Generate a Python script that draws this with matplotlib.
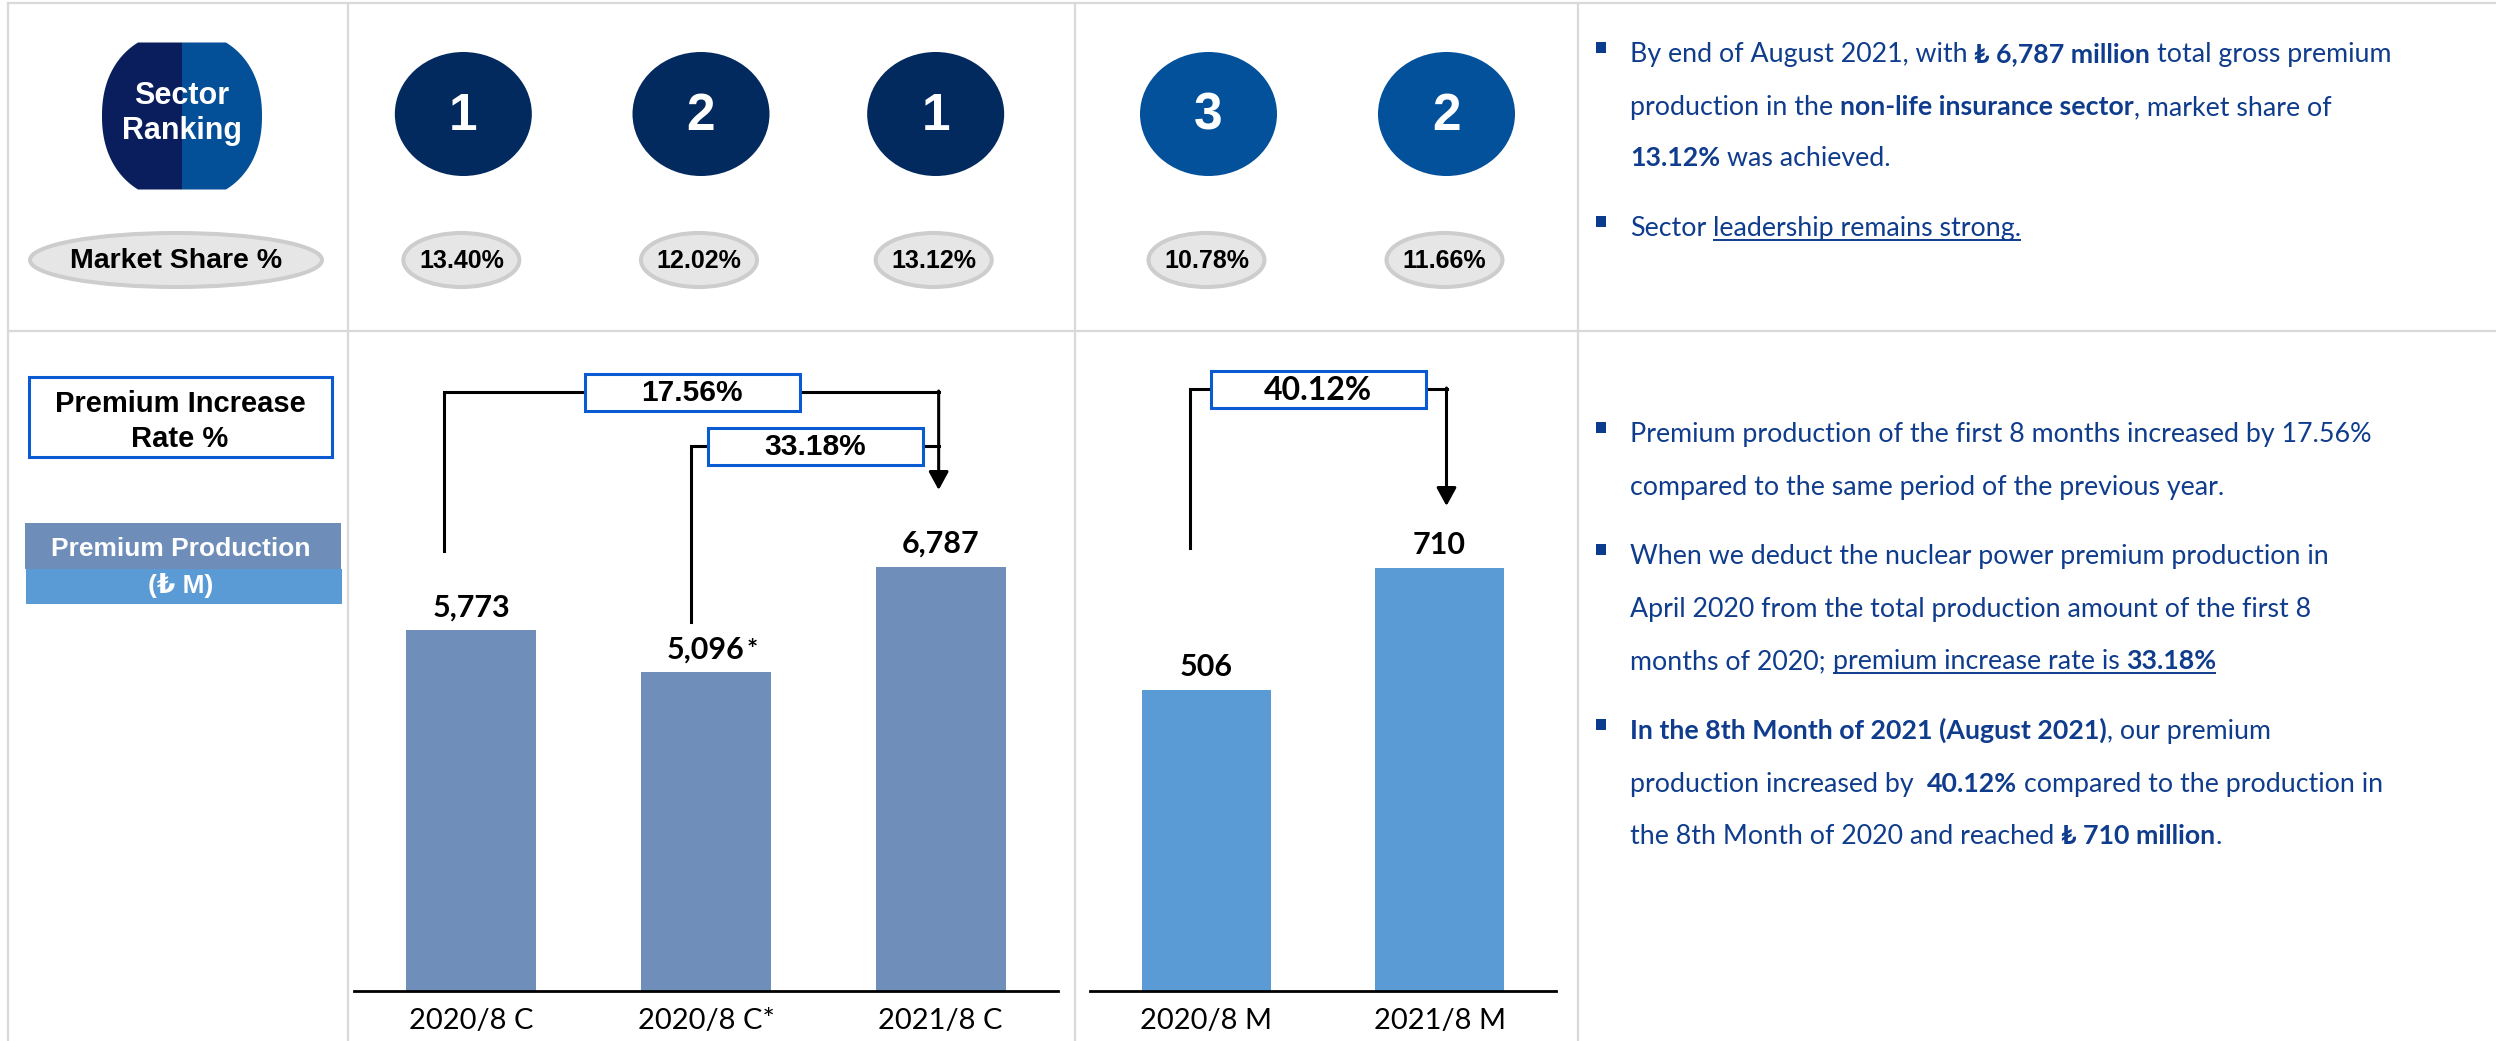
import numpy as np
import matplotlib
matplotlib.use('Agg')
import matplotlib.pyplot as plt
from matplotlib.patches import Ellipse, Rectangle, Polygon

# ---- data ----
cat_c = ['2020/8 C', '2020/8 C*', '2021/8 C']
prem_c = [5773, 5096, 6787]
rank_c = [1, 2, 1]
share_c = [13.40, 12.02, 13.12]

cat_m = ['2020/8 M', '2021/8 M']
prem_m = [506, 710]
rank_m = [3, 2]
share_m = [10.78, 11.66]

# increase rate labels: (text, from bar, to bar)
growth_c = [('17.56%', 0, 2), ('33.18%', 1, 2)]
growth_m = [('40.12%', 0, 1)]

# bullet notes: (has bullet, [(text, style)]) style: b = bold, u = underline
notes_top = [
    (True, [('By end of August 2021, with ', ''), ('₺ 6,787 million', 'b'), (' total gross premium', '')]),
    (False, [('production in the ', ''), ('non-life insurance sector', 'b'), (', market share of', '')]),
    (False, [('13.12%', 'b'), (' was achieved.', '')]),
    (True, [('Sector ', ''), ('leadership remains strong.', 'u')]),
]
notes_bottom = [
    (True, [('Premium production of the first 8 months increased by 17.56%', '')]),
    (False, [('compared to the same period of the previous year.', '')]),
    (True, [('When we deduct the nuclear power premium production in', '')]),
    (False, [('April 2020 from the total production amount of the first 8', '')]),
    (False, [('months of 2020; ', ''), ('premium increase rate is ', 'u'), ('33.18%', 'bu')]),
    (True, [('In the 8th Month of 2021 (August 2021)', 'b'), (', our premium', '')]),
    (False, [('production increased by  ', ''), ('40.12%', 'b'), (' compared to the production in', '')]),
    (False, [('the 8th Month of 2020 and reached ', ''), ('₺ 710 million', 'b'), ('.', '')]),
]

W, H = 2496, 1041
ARIAL = ['Liberation Sans', 'DejaVu Sans']
CALIBRI = ['Lato', 'DejaVu Sans']
NAVY = '#022A5F'
BLUE = '#03509B'
TXT = '#0F3C8C'
GRID = '#D9D9D9'
BOXEDGE = '#0A5AD2'

fig = plt.figure(figsize=(W / 100, H / 100), dpi=100)
bg = fig.add_axes([0, 0, 1, 1])
bg.set_xlim(0, W)
bg.set_ylim(H, 0)
bg.axis('off')
renderer = fig.canvas.get_renderer()

# table lines
for yy in [3, 331]:
    bg.plot([8, W], [yy, yy], color=GRID, lw=1.6)
for xx in [8, 348, 1075, 1578]:
    bg.plot([xx, xx], [3, H], color=GRID, lw=1.6)

# ---- bar panels ----
def bar_axes(x0, x1):
    ax = fig.add_axes([x0 / W, (H - 991) / H, (x1 - x0) / W, (991 - 360) / H])
    ax.patch.set_visible(False)
    for s in ['left', 'right', 'top']:
        ax.spines[s].set_visible(False)
    ax.spines['bottom'].set_linewidth(2)
    ax.set_yticks([])
    ax.tick_params(axis='x', length=0, pad=12)
    return ax

ax_c = bar_axes(354, 1058)
ax_m = bar_axes(1090, 1556)


def draw_bars(ax, cats, vals, color, top):
    x = np.arange(len(cats))
    ax.bar(x, vals, width=0.553, color=color)
    ax.set_xlim(-0.5, len(cats) - 0.5)
    ax.set_ylim(0, top)
    ax.set_xticks(x)
    ax.set_xticklabels(cats, family=CALIBRI, fontsize=21)
    for i, v in enumerate(vals):
        ax.annotate(f'{v:,}', (i, v), xytext=(0, 10), textcoords='offset points',
                    ha='center', va='baseline', family=CALIBRI, fontweight='bold', fontsize=22)
        if cats[i].endswith('*'):
            t = ax.text(0, 0, f'{v:,}', family=CALIBRI, fontweight='bold', fontsize=22)
            w = t.get_window_extent(renderer).width * 72 / 100
            t.remove()
            ax.annotate('*', (i, v), xytext=(w / 2 + 1, 10), textcoords='offset points',
                        ha='left', va='baseline', family=CALIBRI, fontweight='bold', fontsize=19)
    return [ax.transData.transform((i, 0))[0] for i in x]


xs_c = draw_bars(ax_c, cat_c, prem_c, '#6F8EB9', (991 - 360) / 0.06253)
xs_m = draw_bars(ax_m, cat_m, prem_m, '#5B9BD5', (991 - 360) / 0.5958)

# ---- top row: ranking circles and market share ----
def rank_row(xs, ranks, shares, color):
    for x, r, s in zip(xs, ranks, shares):
        bg.add_patch(Ellipse((x, 114), 137, 124, color=color, lw=0))
        bg.text(x, 116, str(r), ha='center', va='center', color='white',
                family=ARIAL, fontweight='bold', fontsize=37)
        bg.add_patch(Ellipse((x - 2, 260), 116, 54, facecolor='#E6E6E6', edgecolor='#CDCDCD', lw=2.9))
        bg.text(x - 2, 261, f'{s:.2f}%', ha='center', va='center', color='black',
                family=ARIAL, fontweight='bold', fontsize=18)

# circle columns sit a little left of the bar centres
rank_row([x + d for x, d in zip(xs_c, [-8, -5, -5])], rank_c, share_c, NAVY)
rank_row([x + d for x, d in zip(xs_m, [2, 7])], rank_m, share_m, BLUE)

# "Sector Ranking" barrel shape (superellipse clipped top and bottom)
cx, cy, a, hh, p = 182, 116, 80, 73.5, 2.2
b = hh / (1 - (44 / a) ** p) ** (1 / p)
yy = np.linspace(-hh, hh, 80)
xx = a * (1 - np.abs(yy / b) ** p) ** (1 / p)
left = np.column_stack([np.r_[cx, cx - xx, cx], np.r_[cy - hh, cy + yy, cy + hh]])
right = np.column_stack([np.r_[cx, cx + xx, cx], np.r_[cy - hh, cy + yy, cy + hh]])
bg.add_patch(Polygon(left, closed=True, color='#0A1E5E', lw=0))
bg.add_patch(Polygon(right, closed=True, color='#034F98', lw=0))
bg.text(cx, 96, 'Sector', ha='center', va='center', color='white', family=ARIAL,
        fontweight='bold', fontsize=22)
bg.text(cx, 131, 'Ranking', ha='center', va='center', color='white', family=ARIAL,
        fontweight='bold', fontsize=22)

bg.add_patch(Ellipse((176, 260), 292, 54, facecolor='#E6E6E6', edgecolor='#CDCDCD', lw=2.9))
bg.text(176, 261, 'Market Share %', ha='center', va='center', color='black', family=ARIAL,
        fontweight='bold', fontsize=20.5)

# ---- left labels of bottom row ----
bg.add_patch(Rectangle((29, 377), 303, 80, facecolor='white', edgecolor=BOXEDGE, lw=2.2))
bg.text(180, 404, 'Premium Increase', ha='center', va='center', family=ARIAL,
        fontweight='bold', fontsize=21)
bg.text(180, 439, 'Rate %', ha='center', va='center', family=ARIAL, fontweight='bold', fontsize=21)
bg.add_patch(Rectangle((25, 523), 316, 46, color='#6E8DB8', lw=0))
bg.add_patch(Rectangle((26, 569), 316, 35, color='#5B9BD5', lw=0))
bg.text(181, 549, 'Premium Production', ha='center', va='center', color='white', family=ARIAL,
        fontweight='bold', fontsize=19)
bg.text(181, 585, '(₺ M)', ha='center', va='center', color='white', family=ARIAL,
        fontweight='bold', fontsize=19)

# ---- increase-rate brackets ----
def bracket(label, xl, xr, y0, y1, tip, font, size):
    bg.plot([xl, xl, xr], [y0, y1, y1], color='black', lw=2.2, solid_joinstyle='miter')
    if tip is not None:
        bg.annotate('', xy=(xr, tip), xytext=(xr, y1 - 1),
                    arrowprops=dict(arrowstyle='-|>,head_length=0.55,head_width=0.3',
                                    color='black', lw=2.2, shrinkA=0, shrinkB=0,
                                    mutation_scale=20))
    xm = (xl + xr) / 2
    bg.add_patch(Rectangle((xm - 107, y1 - 18), 215, 37, facecolor='white',
                           edgecolor=BOXEDGE, lw=2.2, zorder=3))
    bg.text(xm, y1 + 1, label, ha='center', va='center', family=font, fontweight='bold',
            fontsize=size, zorder=4)

# layout of each bracket: left x offset, left bottom, top, arrow tip, right x offset
lay_c = [(-27, 551, 392, 490, -2), (-15, 622, 446, None, -2)]
lay_m = [(-17, 548, 389, 506, 7)]
for (label, i, j), (dl, y0, y1, tip, dr) in zip(growth_c, lay_c):
    bracket(label, xs_c[i] + dl, xs_c[j] + dr, y0, y1, tip, ARIAL, 21.5)
for (label, i, j), (dl, y0, y1, tip, dr) in zip(growth_m, lay_m):
    bracket(label, xs_m[i] + dl, xs_m[j] + dr, y0, y1, tip, CALIBRI, 23)

# ---- bullet notes ----
def width_of(s, **kw):
    t = bg.text(0, 0, s, **kw)
    w = t.get_window_extent(renderer).width
    t.remove()
    return w


def rich_line(x, y, runs, size):
    for txt, style in runs:
        kw = dict(fontsize=size, color=TXT, family=CALIBRI,
                  fontweight='bold' if 'b' in style else 'normal')
        sp = width_of('a a', **kw) - width_of('aa', **kw)
        core = txt.strip(' ')
        lead = len(txt) - len(txt.lstrip(' '))
        trail = len(txt) - len(txt.rstrip(' '))
        x += lead * sp
        bg.text(x, y, core, ha='left', va='baseline', **kw)
        w = width_of(core, **kw)
        if 'u' in style:
            bg.plot([x, x + w + trail * sp], [y + 4, y + 4], color=TXT, lw=1.4,
                     solid_capstyle='butt')
        x += w + trail * sp


def notes(lines, ys):
    for (bullet, runs), y in zip(lines, ys):
        if bullet:
            bg.add_patch(Rectangle((1596, y - 11), 10, 11, color='#0B3B8C', lw=0))
        rich_line(1630, y + 9, runs, 19.3)

notes(notes_top, [53, 106, 157, 227])
notes(notes_bottom, [433, 486, 555, 608, 660, 730, 783, 835])

fig.savefig('out.png', dpi=100)
